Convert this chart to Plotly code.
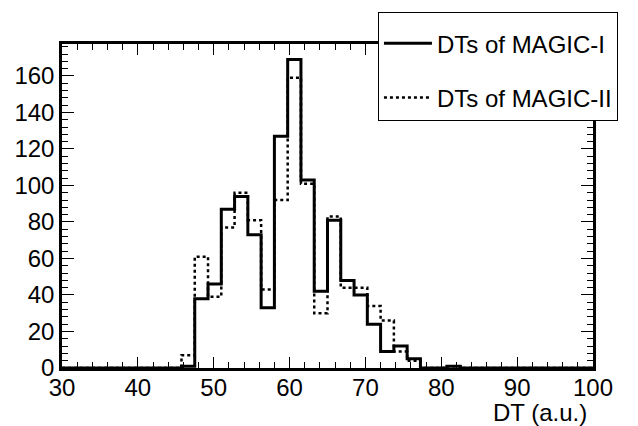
import plotly.graph_objects as go

# Histogram binning (40 bins from 30 to 100)
x_min = 30.0
bin_width = 1.75
n_bins = 40

# Bin contents
magic1_counts = [0] * 9 + [1, 38, 46, 87, 94, 73, 33, 127, 169, 103, 42, 81, 48, 40, 24, 9, 12, 5, 0, 0, 1] + [0] * 10
magic2_counts = [0] * 9 + [7, 61, 39, 77, 96, 81, 43, 92, 159, 101, 30, 83, 44, 44, 34, 26, 9, 4, 0, 0, 1] + [0] * 10

series_names = ["DTs of MAGIC-I", "DTs of MAGIC-II"]
x_ticks = [30, 40, 50, 60, 70, 80, 90, 100]
y_ticks = [0, 20, 40, 60, 80, 100, 120, 140, 160]

edges = [x_min + i * bin_width for i in range(n_bins + 1)]

FONT = "Arial, Liberation Sans, Helvetica, sans-serif"

fig = go.Figure()
fig.add_trace(go.Scatter(
    x=edges, y=magic1_counts + [magic1_counts[-1]],
    mode="lines", line=dict(shape="hv", color="black", width=3),
    name=series_names[0], legendgroup="a",
))
fig.add_trace(go.Scatter(
    x=edges, y=magic2_counts + [magic2_counts[-1]],
    mode="lines", line=dict(shape="hv", color="black", width=2.5, dash="dot"),
    name=series_names[1], legendgroup="b",
))

axis_common = dict(
    showline=True, linecolor="black", linewidth=2.5, mirror="allticks",
    ticks="inside", tickcolor="black", tickwidth=1,
    showgrid=False, zeroline=False,
    tickfont=dict(family=FONT, size=24, color="black"),
)

fig.update_xaxes(
    range=[30, 100], tickvals=x_ticks, ticklen=11, ticklabelstandoff=-4,
    minor=dict(tickvals=list(range(32, 100, 2)), ticklen=6, ticks="inside", tickcolor="black", tickwidth=1),
    **axis_common,
)
fig.update_yaxes(
    range=[0, 177.5], tickvals=y_ticks, ticklen=12,
    minor=dict(tickvals=list(range(4, 178, 4)), ticklen=6, ticks="inside", tickcolor="black", tickwidth=1),
    **axis_common,
)

fig.add_annotation(
    text="DT (a.u.)", x=1, y=0, xref="paper", yref="paper",
    xanchor="right", yanchor="top", yshift=-29, xshift=-4, showarrow=False,
    font=dict(family=FONT, size=24, color="black"),
)

fig.update_layout(
    width=638, height=426,
    margin=dict(l=62, r=45, t=40, b=58),
    paper_bgcolor="white", plot_bgcolor="white",
    showlegend=True,
    legend=dict(
        x=0.595, y=1.0976, xanchor="left", yanchor="top",
        bgcolor="white", bordercolor="black", borderwidth=1,
        font=dict(family=FONT, size=24, color="black"),
        tracegroupgap=20, traceorder="grouped",
        itemwidth=48,
        title=dict(text=" ", font=dict(size=6)),
    ),
)

fig.write_html("out.html")
